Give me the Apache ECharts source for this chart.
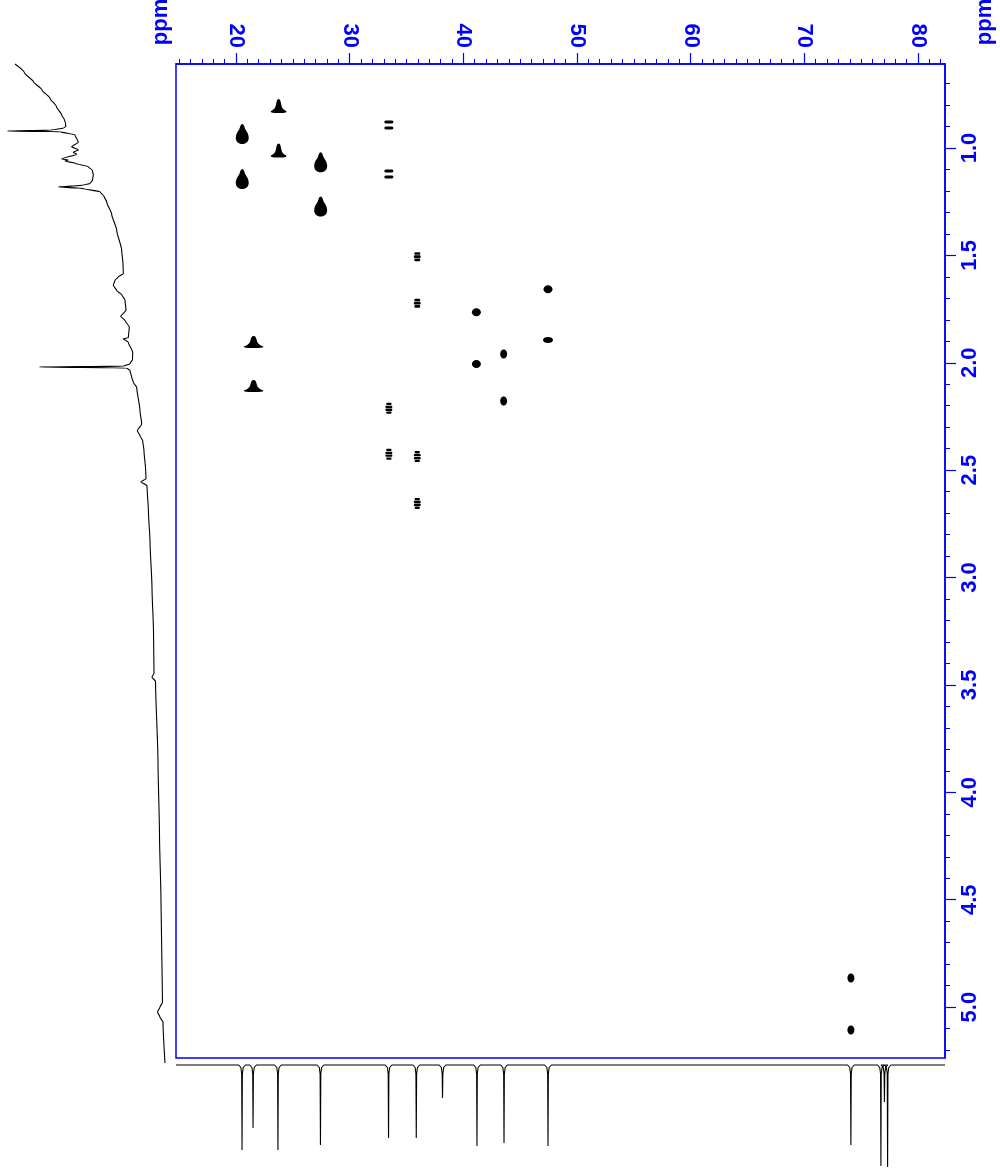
<!DOCTYPE html>
<html>
<head>
<meta charset="utf-8">
<script src="https://cdn.jsdelivr.net/npm/echarts@6/dist/echarts.min.js"></script>
<style>
  html, body { margin: 0; padding: 0; background: #ffffff; }
  #chart { width: 1000px; height: 1168px; }
</style>
</head>
<body>
<div id="chart"></div>
<script>
// ---- axis ranges and tick labels (ppm) ----
const carbonRange = [14.72, 82.38];
const protonRange = [0.609, 5.237];
const carbonTicks = [20, 30, 40, 50, 60, 70, 80];
const protonTicks = [1.0, 1.5, 2.0, 2.5, 3.0, 3.5, 4.0, 4.5, 5.0];

// ---- 1H projection trace (shift ppm, intensity) ----
const protonShift = [0.609, 0.650, 0.691, 0.730, 0.768, 0.808, 0.846, 0.870, 0.885, 0.900, 0.908, 0.917, 0.921, 0.924, 0.939, 0.973, 0.994, 1.009, 1.020, 1.029, 1.051, 1.056, 1.061, 1.071, 1.087, 1.105, 1.126, 1.150, 1.165, 1.173, 1.182, 1.187, 1.191, 1.204, 1.225, 1.251, 1.309, 1.383, 1.476, 1.540, 1.585, 1.601, 1.616, 1.639, 1.663, 1.685, 1.709, 1.756, 1.784, 1.803, 1.834, 1.884, 1.888, 1.904, 1.951, 1.985, 2.005, 2.016, 2.020, 2.024, 2.036, 2.067, 2.091, 2.114, 2.223, 2.285, 2.316, 2.340, 2.363, 2.410, 2.503, 2.540, 2.554, 2.573, 2.700, 2.830, 3.050, 3.250, 3.446, 3.464, 3.483, 3.857, 4.200, 4.510, 4.977, 5.000, 5.023, 5.047, 5.070, 5.260];
const protonIntensity = [150, 140.5, 131.7, 123, 115, 108.5, 103.3, 100.5, 99.5, 99.2, 101.7, 115, 157.7, 105, 90, 86.7, 93.3, 86.7, 91.7, 88.3, 103.3, 96.7, 100, 90, 76.7, 72.5, 71.7, 72.5, 75, 81.7, 106.7, 85, 80, 65, 61, 58.3, 53.3, 48.3, 43.3, 42, 41.7, 46.7, 50, 51.7, 48.3, 43, 40, 39, 44.3, 40, 35.7, 36.7, 41.7, 36.7, 32.3, 32.5, 35, 41.7, 125.7, 38.3, 35, 33.3, 31.7, 28.3, 25, 23.3, 27.7, 25, 22.3, 21, 19.3, 19, 24, 18, 16.5, 15, 13, 11.5, 11, 13, 9.5, 7, 5.5, 4, 2.5, 5, 7.5, 5, 2, 0];

// ---- 13C projection peaks (shift ppm, height) ----
const carbonPeakShift = [20.53, 21.50, 23.69, 27.43, 33.42, 35.86, 38.17, 41.20, 43.58, 47.45, 74.10, 76.74, 77.05, 77.33];
const carbonPeakHeight = [85, 63, 85, 80, 73, 73, 33, 81, 78, 81, 80, 101, 37, 102];

// ---- HSQC cross peaks ----
const crossCarbon = [23.75, 20.55, 23.75, 27.45, 20.55, 27.45, 33.45, 33.45, 35.95, 35.95, 47.45, 41.15, 47.45, 43.55, 41.15, 43.55, 21.55, 21.55, 33.45, 33.45, 35.95, 35.95, 74.10, 74.10];
const crossProton = [0.805, 0.935, 1.012, 1.067, 1.145, 1.272, 0.893, 1.121, 1.506, 1.723, 1.658, 1.765, 1.894, 1.959, 2.006, 2.178, 1.903, 2.108, 2.212, 2.426, 2.437, 2.655, 4.865, 5.107];
const crossShape = ['bell', 'drop', 'bell', 'drop', 'drop', 'drop', 'pair', 'pair', 'block', 'block', 'dot', 'dot', 'flat', 'tall', 'dot', 'tall', 'hat', 'hat', 'beads', 'beads', 'beads', 'beads', 'tall', 'tall'];

// ---- contour glyphs for each cross-peak kind ----
const glyphs = {
  drop:  { path: 'path://M5,0 C6.2,0 6.6,2 7.2,4 C8.5,6 10,8 10,11 C10,14 8,16 5,16 C2,16 0,14 0,11 C0,8 1.5,6 2.8,4 C3.4,2 3.8,0 5,0 Z', size: [13, 20] },
  bell:  { path: 'path://M10,0 C12,0 12.6,2 13.2,4.5 C13.8,7 15,9 20,10.5 L19,11.5 C15,12.2 5,12.2 1,11.5 L0,10.5 C5,9 6.2,7 6.8,4.5 C7.4,2 8,0 10,0 Z', size: [16, 14] },
  hat:   { path: 'path://M10,0 C12,0 12.6,2 13.2,4.5 C13.8,7 15,9 20,10.5 L19,11.5 C15,12.2 5,12.2 1,11.5 L0,10.5 C5,9 6.2,7 6.8,4.5 C7.4,2 8,0 10,0 Z', size: [20, 12] },
  pair:  { path: 'path://M1.5,0 H8.5 C10.5,0 10.5,3 8.5,3 H1.5 C-0.5,3 -0.5,0 1.5,0 Z M1.5,6 H8.5 C10.5,6 10.5,9 8.5,9 H1.5 C-0.5,9 -0.5,6 1.5,6 Z', size: [9, 9] },
  block: { path: 'path://M2,0 H8 C10,0 10,2.6 8,2.6 H2 C0,2.6 0,0 2,0 Z M1,3.1 H9 C10.6,3.1 10.6,5.7 9,5.7 H1 C-0.6,5.7 -0.6,3.1 1,3.1 Z M2,6.2 H8 C10,6.2 10,8.8 8,8.8 H2 C0,8.8 0,6.2 2,6.2 Z', size: [7, 9] },
  beads: { path: 'path://M2.5,0 H7.5 C9.5,0 9.5,2.4 7.5,2.4 H2.5 C0.5,2.4 0.5,0 2.5,0 Z M1,3 H9 C10.6,3 10.6,5.4 9,5.4 H1 C-0.6,5.4 -0.6,3 1,3 Z M1,6 H9 C10.6,6 10.6,8.4 9,8.4 H1 C-0.6,8.4 -0.6,6 1,6 Z M2.5,9 H7.5 C9.5,9 9.5,11.4 7.5,11.4 H2.5 C0.5,11.4 0.5,9 2.5,9 Z', size: [7, 11] },
  dot:   { path: 'path://M5,0 C7.8,0 10,2.2 10,5 C10,7.8 7.8,10 5,10 C2.2,10 0,7.8 0,5 C0,2.2 2.2,0 5,0 Z', size: [9, 8] },
  flat:  { path: 'path://M5,0 C7.8,0 10,2.2 10,5 C10,7.8 7.8,10 5,10 C2.2,10 0,7.8 0,5 C0,2.2 2.2,0 5,0 Z', size: [10, 6] },
  tall:  { path: 'path://M5,0 C7.8,0 10,2.2 10,5 C10,7.8 7.8,10 5,10 C2.2,10 0,7.8 0,5 C0,2.2 2.2,0 5,0 Z', size: [7, 9] }
};

const BLUE = '#0000ff';
const FONT = '"Liberation Sans", Arial, sans-serif';

// plot area of the 2D map
const plot = { left: 176, top: 64, width: 769, height: 994 };

// minor tick positions: every 1 ppm (13C) and 0.1 ppm (1H)
const carbonMinor = [];
for (let v = 15; v <= 82; v++) carbonMinor.push(v);
const protonMinor = [];
for (let k = 7; k <= 52; k++) protonMinor.push(k / 10);

// 1H trace points
const protonLine = protonShift.map((s, i) => [protonIntensity[i], s]);

// 13C projection: thin spikes built from the peak list
const carbonLine = [[carbonRange[0], 0]];
const order = carbonPeakShift.map((s, i) => i).sort((a, b) => carbonPeakShift[a] - carbonPeakShift[b]);
order.forEach(i => {
  const c = carbonPeakShift[i], h = carbonPeakHeight[i];
  carbonLine.push([c - 0.30, 0], [c - 0.10, 2.5], [c - 0.03, 9], [c, h], [c + 0.03, 9], [c + 0.10, 2.5], [c + 0.30, 0]);
});
carbonLine.push([carbonRange[1], 0]);

// one scatter series per glyph kind
const crossSeries = Object.keys(glyphs).map(kind => ({
  type: 'scatter',
  xAxisIndex: 0,
  yAxisIndex: 0,
  symbol: glyphs[kind].path,
  symbolSize: glyphs[kind].size,
  itemStyle: { color: '#000000', opacity: 1 },
  silent: true,
  z: 5,
  data: crossCarbon.map((c, i) => crossShape[i] === kind ? [c, crossProton[i]] : null).filter(d => d)
}));

const labelStyle = {
  color: BLUE,
  fontSize: 22,
  fontWeight: 'bold',
  fontFamily: FONT
};

const option = {
  animation: false,
  backgroundColor: '#ffffff',
  grid: [
    { left: plot.left, top: plot.top, width: plot.width, height: plot.height, show: true, borderColor: BLUE, borderWidth: 1.5, backgroundColor: 'transparent' },
    { left: 0, top: plot.top, width: 165, height: plot.height },
    { left: plot.left, top: plot.top + plot.height, width: plot.width, height: 110 },
    { left: plot.left, top: plot.top, width: plot.width, height: plot.height }
  ],
  xAxis: [
    {
      gridIndex: 0, type: 'value', position: 'top', min: carbonRange[0], max: carbonRange[1],
      axisLine: { show: true, lineStyle: { color: BLUE, width: 1.5 } },
      axisTick: { show: true, customValues: carbonTicks, length: 11, lineStyle: { color: BLUE, width: 1.2 } },
      axisLabel: Object.assign({ customValues: carbonTicks, rotate: 90, margin: 16 }, labelStyle),
      splitLine: { show: false }
    },
    { gridIndex: 1, type: 'value', min: 0, max: 165, inverse: true, show: false },
    { gridIndex: 2, type: 'value', min: carbonRange[0], max: carbonRange[1], show: false },
    {
      gridIndex: 3, type: 'value', position: 'top', min: carbonRange[0], max: carbonRange[1],
      axisLine: { show: false },
      axisTick: { show: true, customValues: carbonMinor, length: 5, lineStyle: { color: BLUE, width: 1 } },
      axisLabel: { show: false },
      splitLine: { show: false }
    }
  ],
  yAxis: [
    {
      gridIndex: 0, type: 'value', position: 'right', inverse: true, min: protonRange[0], max: protonRange[1],
      axisLine: { show: true, lineStyle: { color: BLUE, width: 1.5 } },
      axisTick: { show: true, customValues: protonTicks, length: 11, lineStyle: { color: BLUE, width: 1.2 } },
      axisLabel: Object.assign({ customValues: protonTicks, rotate: 90, margin: 14, formatter: v => v.toFixed(1) }, labelStyle),
      splitLine: { show: false }
    },
    { gridIndex: 1, type: 'value', inverse: true, min: protonRange[0], max: protonRange[1], show: false },
    { gridIndex: 2, type: 'value', inverse: true, min: -7, max: 103, show: false },
    {
      gridIndex: 3, type: 'value', position: 'right', inverse: true, min: protonRange[0], max: protonRange[1],
      axisLine: { show: false },
      axisTick: { show: true, customValues: protonMinor, length: 5, lineStyle: { color: BLUE, width: 1 } },
      axisLabel: { show: false },
      splitLine: { show: false }
    }
  ],
  graphic: [
    { type: 'text', x: 161, y: 22, rotation: Math.PI / 2, style: { text: 'ppm', fill: BLUE, font: 'bold 22px ' + FONT, align: 'center', verticalAlign: 'middle' } },
    { type: 'text', x: 985, y: 22, rotation: Math.PI / 2, style: { text: 'ppm', fill: BLUE, font: 'bold 22px ' + FONT, align: 'center', verticalAlign: 'middle' } }
  ],
  series: [
    {
      type: 'line', xAxisIndex: 1, yAxisIndex: 1, data: protonLine,
      showSymbol: false, clip: false, smooth: 0.2, smoothMonotone: 'y',
      lineStyle: { color: '#000000', width: 1.1 }, silent: true
    },
    {
      type: 'line', xAxisIndex: 2, yAxisIndex: 2, data: carbonLine,
      showSymbol: false, clip: false,
      lineStyle: { color: '#000000', width: 1.1 }, silent: true
    }
  ].concat(crossSeries)
};

const chart = echarts.init(document.getElementById('chart'), null, { renderer: 'canvas' });
chart.setOption(option);
</script>
</body>
</html>
